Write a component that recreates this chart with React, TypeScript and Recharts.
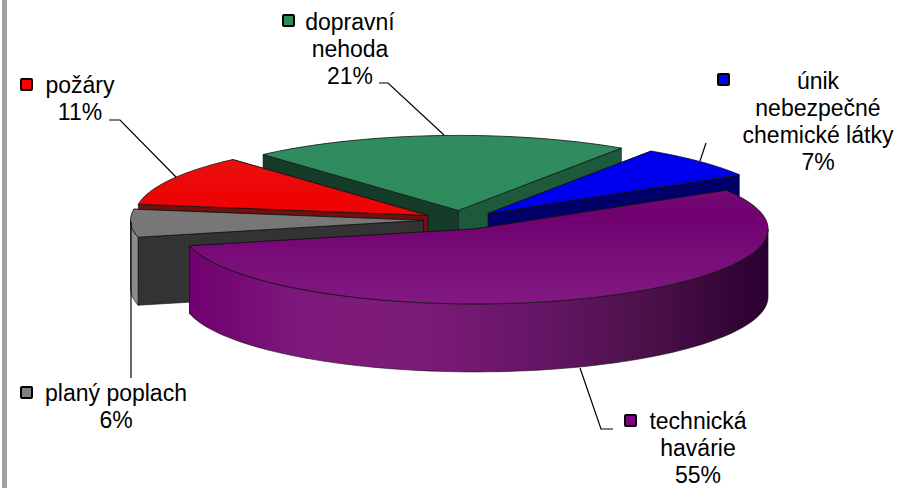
import React from "react";
import { PieChart, Pie } from "recharts";

const categories = [
  "technická\nhavárie",
  "planý poplach",
  "požáry",
  "dopravní\nnehoda",
  "únik\nnebezpečné\nchemické látky",
];
const shares = [55, 6, 11, 21, 7];
const keyColors = ["#800080", "#808080", "#ff0000", "#2e8b57", "#0000ff"];

const data = categories.map((name, i) => ({ name, value: shares[i] }));

// back to front, the slices overlap each other in this order
const drawOrder = [3, 4, 2, 1, 0];

const CX = 461;
const CY = 220;
const RADIUS = 293;
const TILT = 0.256;
const DEPTH = 68;
const EXPLODE = 37.5;
const FONT = "'Liberation Sans', Arial, sans-serif";

interface ISliceStyle {
  top: [string, string, string];
  wallBack: string;
  wallFront: string;
  rim: string[];
}

const sliceStyles: ISliceStyle[] = [
  {
    top: ["#821a82", "#700070", "#821a82"],
    wallBack: "#400040",
    wallFront: "#400040",
    rim: ["#700070", "#7e1a7c", "#7c1a78", "#661666", "#4a1048", "#2a0030"],
  },
  { top: ["#7c7c7c", "#787878", "#747474"], wallBack: "#333333", wallFront: "#333333", rim: ["#8c8c8c", "#8c8c8c"] },
  { top: ["#e81414", "#ee0404", "#f00c0c"], wallBack: "#701010", wallFront: "#701010", rim: ["#701010", "#701010"] },
  { top: ["#308c60", "#2e8b5c", "#2e8b5c"], wallBack: "#1d5a3c", wallFront: "#143c28", rim: ["#143c28", "#143c28"] },
  { top: ["#0000ee", "#0000f0", "#0000f4"], wallBack: "#000068", wallFront: "#000068", rim: ["#000068", "#000068"] },
];

// where the text, key square and leader line of each label sit
const labelLayout = [
  { cx: 698, firstBaseline: 429, keyX: 624, keyY: 414, leader: "M613 429 L601 429 L580 368" },
  { cx: 116, firstBaseline: 401, keyX: 20, keyY: 386, leader: "M131 222 L131 378" },
  { cx: 80, firstBaseline: 93, keyX: 20, keyY: 78, leader: "M109 120 L120 120 L176 177" },
  { cx: 350, firstBaseline: 30, keyX: 282, keyY: 14, leader: "M379 83 L388 83 L444 135" },
  { cx: 818, firstBaseline: 89, keyX: 717, keyY: 73, leader: "M706 143 L700 161" },
];

const rad = (deg: number) => (deg * Math.PI) / 180;

function Slice3D(props: any) {
  const { startAngle, endAngle, midAngle, cx, cy, outerRadius } = props;
  const index = categories.indexOf(props.name);
  const style = sliceStyles[index];
  const id = `slice-${index}`;

  const ox = cx + EXPLODE * Math.cos(rad(midAngle));
  const oy = cy - EXPLODE * TILT * Math.sin(rad(midAngle));
  const px = (a: number) => ox + outerRadius * Math.cos(rad(a));
  const py = (a: number) => oy - outerRadius * TILT * Math.sin(rad(a));

  const hi = Math.max(startAngle, endAngle);
  const lo = Math.min(startAngle, endAngle);

  const arc = (from: number, to: number, dy = 0) => {
    const steps = Math.max(2, Math.ceil(Math.abs(to - from) / 2));
    const pts: string[] = [];
    for (let i = 0; i <= steps; i++) {
      const a = from + ((to - from) * i) / steps;
      pts.push(`${px(a).toFixed(2)} ${(py(a) + dy).toFixed(2)}`);
    }
    return pts;
  };

  const wall = (a: number) =>
    `M${ox} ${oy} L${px(a)} ${py(a)} L${px(a)} ${py(a) + DEPTH} L${ox} ${oy + DEPTH} Z`;

  // only the part of the rim on the viewer's side is seen
  const rimParts: string[] = [];
  for (const turn of [-720, -360, 0]) {
    const from = Math.max(lo, 180 + turn);
    const to = Math.min(hi, 360 + turn);
    if (to > from) {
      const upper = arc(from, to);
      const lower = arc(to, from, DEPTH);
      rimParts.push(`M${upper.join(" L")} L${lower.join(" L")} Z`);
    }
  }

  const walls = [
    { a: hi, fill: style.wallFront },
    { a: lo, fill: style.wallBack },
  ].sort((m, n) => Math.sin(rad(n.a)) - Math.sin(rad(m.a)));

  const topPath = `M${ox} ${oy} L${arc(hi, lo).join(" L")} Z`;

  return (
    <g>
      <defs>
        <linearGradient id={`${id}-top`} x1="0" y1={oy - outerRadius * TILT} x2="0" y2={oy + outerRadius * TILT} gradientUnits="userSpaceOnUse">
          <stop offset="0" stopColor={style.top[0]} />
          <stop offset="0.4" stopColor={style.top[1]} />
          <stop offset="1" stopColor={style.top[2]} />
        </linearGradient>
        <linearGradient id={`${id}-rim`} x1={px(lo + 0) < px(hi) ? px(lo) : px(hi)} y1="0" x2={ox + outerRadius} y2="0" gradientUnits="userSpaceOnUse">
          {style.rim.map((c, i) => (
            <stop key={i} offset={i / (style.rim.length - 1)} stopColor={c} />
          ))}
        </linearGradient>
      </defs>
      {walls.map((w, i) => (
        <path key={i} d={wall(w.a)} fill={w.fill} stroke="#111" strokeWidth={0.6} />
      ))}
      {rimParts.map((d, i) => (
        <path key={i} d={d} fill={`url(#${id}-rim)`} stroke="#111" strokeWidth={0.6} />
      ))}
      <path d={topPath} fill={`url(#${id}-top)`} stroke="#111" strokeWidth={0.8} strokeLinejoin="round" />
    </g>
  );
}

function SliceLabel(props: any) {
  const index = categories.indexOf(props.name);
  const place = labelLayout[index];
  const lines = [...categories[index].split("\n"), `${Math.round(props.percent * 100)}%`];
  return (
    <g>
      <path d={place.leader} fill="none" stroke="#000" strokeWidth={1.2} />
      <rect x={place.keyX + 1} y={place.keyY + 1} width={11} height={11} rx={1} fill={keyColors[index]} stroke="#000" strokeWidth={2} />
      {lines.map((line, i) => (
        <text
          key={i}
          x={place.cx}
          y={place.firstBaseline + i * 27}
          textAnchor="middle"
          fontFamily={FONT}
          fontSize={23}
          fill="#000"
        >
          {line}
        </text>
      ))}
    </g>
  );
}

export default function App() {
  return (
    <div style={{ position: "relative", width: 899, height: 488, background: "#fff", overflow: "hidden" }}>
      <style>{"body{margin:0}"}</style>
      <div style={{ position: "absolute", left: 2, top: 0, width: 5, height: 488, background: "#a0a0a0" }} />
      <PieChart width={899} height={488} margin={{ top: 0, right: 0, bottom: 0, left: 0 }} style={{ position: "absolute", left: 0, top: 0 }}>
        {drawOrder.map((sliceIndex, i) => (
          <Pie
            key={sliceIndex}
            data={data}
            dataKey="value"
            nameKey="name"
            cx={CX}
            cy={CY}
            innerRadius={0}
            outerRadius={RADIUS}
            startAngle={31}
            endAngle={-329}
            isAnimationActive={false}
            labelLine={false}
            label={i === drawOrder.length - 1 ? (p: any) => <SliceLabel {...p} /> : false}
            shape={(p: any) => (categories.indexOf(p.name) === sliceIndex ? <Slice3D {...p} /> : <g />)}
          />
        ))}
      </PieChart>
    </div>
  );
}
